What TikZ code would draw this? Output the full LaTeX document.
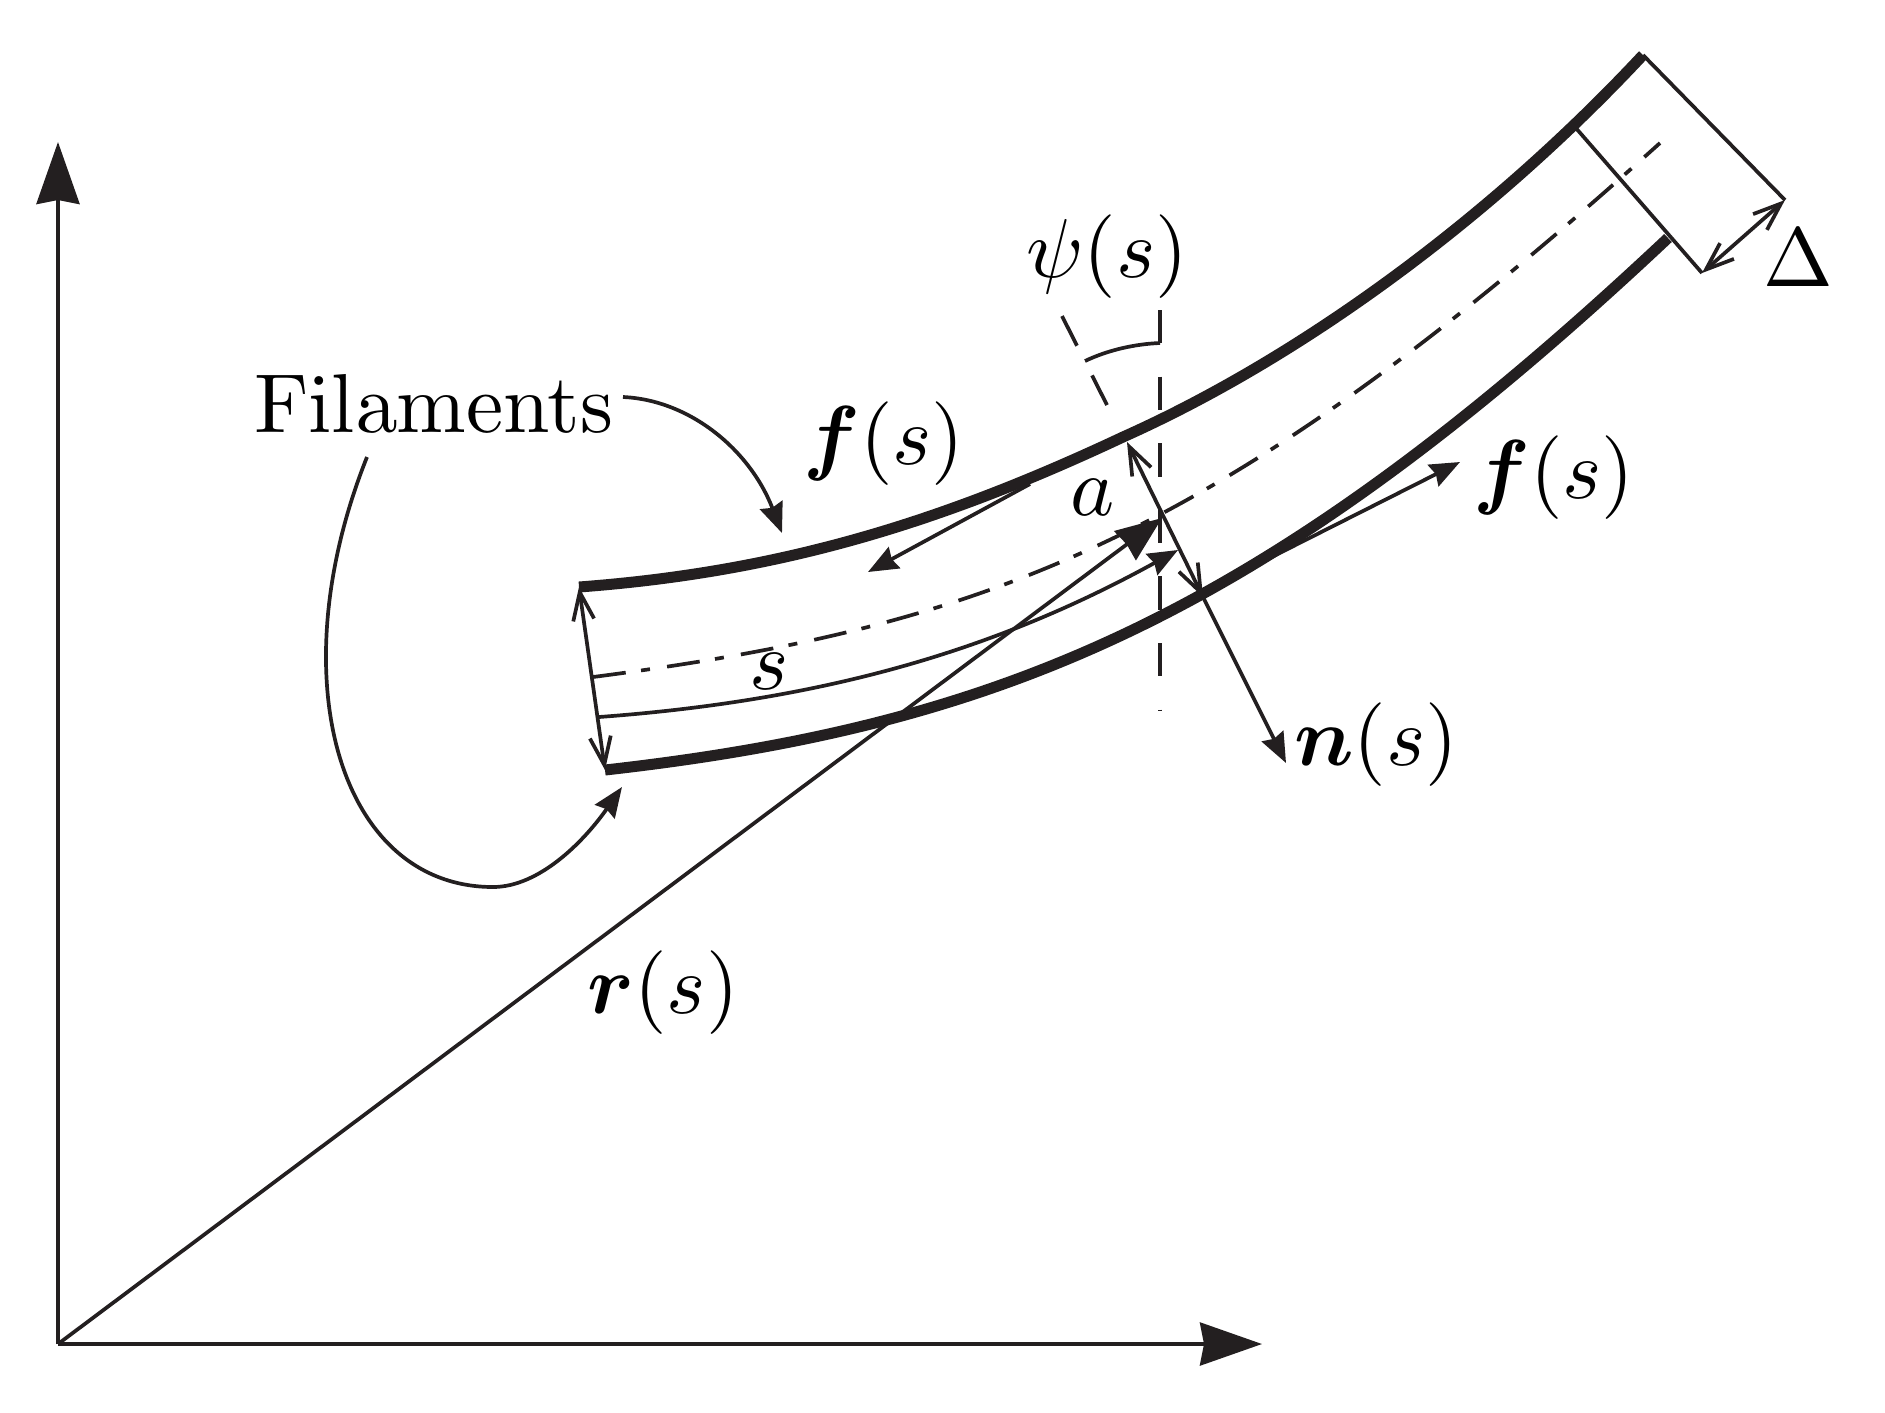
\documentclass[tikz,border=0pt]{standalone}
\usepackage{amsmath,bm}
\usetikzlibrary{arrows.meta}
\definecolor{inkline}{RGB}{35,31,32}
\tikzset{
  every node/.style={scale=2.38, inner sep=0pt},
  thinline/.style={draw=inkline, line width=0.37mm},
  filament/.style={draw=inkline, line width=1.1mm},
  axisarrow/.style={thinline, -{Stealth[length=6.2mm,width=4.3mm,inset=0.4mm]}},
  radiusarrow/.style={thinline, -{Stealth[length=4.6mm,width=3.6mm,inset=0.2mm]}},
  smallarrow/.style={thinline, -{Stealth[length=3mm,width=2.4mm,inset=0.3mm]}},
  openarrow/.style={thinline, {Straight Barb[length=2.8mm,width=2.1mm]}-{Straight Barb[length=2.8mm,width=2.1mm]}},
  centreline/.style={thinline, dash pattern=on 3.3mm off 1.55mm on 0.9mm off 1.73mm},
  refline/.style={thinline, dash pattern=on 3.33mm off 3.33mm},
}
\begin{document}
\begin{tikzpicture}[x=0.1mm, y=-0.1mm]
  \useasboundingbox (0,0) rectangle (1885,1412);
  \coordinate (origin) at (58,1344);
  \coordinate (ytip) at (58,142);
  \coordinate (xtip) at (1262,1344);
  \coordinate (topstart) at (579,587);
  \coordinate (topmid) at (1123,437);
  \coordinate (topend) at (1643,55);
  \coordinate (botstart) at (605,770);
  \coordinate (botend) at (1668,238);
  \coordinate (midstart) at (593,677);
  \coordinate (midend) at (1660,143);
  \coordinate (sstart) at (599,717);
  \coordinate (stip) at (1178,550);
  \coordinate (rtip) at (1162,518);
  \coordinate (atop) at (1127,442);
  \coordinate (abot) at (1203,597);
  \coordinate (ntip) at (1286,763);
  \coordinate (ftan) at (1250,568);
  \coordinate (ftip) at (1460,462);
  \coordinate (gtan) at (1030,484);
  \coordinate (gtip) at (868,572);
  \coordinate (capin) at (1575,127);
  \coordinate (capcorner) at (1702,273);
  \coordinate (capouter) at (1785,200);
  \coordinate (vtop) at (1160,310);
  \coordinate (vbot) at (1160,710);
  \coordinate (vcorner) at (1160,343);
  \coordinate (tilttop) at (1062,316);
  \coordinate (tiltbot) at (1107,405);
  \coordinate (tiltarc) at (1085,361);
  \coordinate (fila) at (623,397);
  \coordinate (filatip) at (782,533);
  \coordinate (filb) at (367,457);
  \coordinate (filbmid) at (493,887);
  \coordinate (filbtip) at (622,787);

  % axes and position vector
  \draw[axisarrow] (origin) -- (ytip);
  \draw[axisarrow] (origin) -- (xtip);

  % rod
  \draw[filament] (topstart) .. controls (780,572) and (940,523) .. (topmid)
    .. controls (1300,358) and (1490,219) .. (topend);
  \draw[filament] (botstart) .. controls (1005,725) and (1268,614) .. (botend);
  \draw[centreline] (midstart) .. controls (993,625) and (1220,539) .. (midend);
  \draw[smallarrow] (sstart) .. controls (830,700) and (1000,648) .. (stip);
  \draw[radiusarrow] (origin) -- (rtip);

  % ends of rod
  \draw[openarrow] (topstart) -- (botstart);
  \draw[thinline] (topend) -- (capouter);
  \draw[thinline] (capin) -- (capcorner);
  \draw[openarrow] (capcorner) -- (capouter);

  % frame vectors
  \draw[openarrow] (atop) -- (abot);
  \draw[smallarrow] (abot) -- (ntip);
  \draw[smallarrow] (ftan) -- (ftip);
  \draw[smallarrow] (gtan) -- (gtip);

  % twist angle
  \draw[refline] (vtop) -- (vbot);
  \draw[refline] (tilttop) -- (tiltbot);
  \draw[thinline] (vcorner) .. controls (1135,344) and (1108,350) .. (tiltarc);

  % pointers from the label
  \draw[smallarrow] (fila) .. controls (690,400) and (750,450) .. (filatip);
  \draw[thinline] (filb) .. controls (278,680) and (340,887) .. (filbmid);
  \draw[smallarrow] (filbmid) .. controls (540,887) and (585,840) .. (filbtip);

  % labels
  \node (filaments) at (434,403) {\font\filafont=cmr10 \filafont Filaments};
  \node (psilabel) at (1107,257) {$\psi(s)$};
  \node (ftoplabel) at (884,444) {$\bm{f}(s)$};
  \node (frightlabel) at (1554,478) {$\bm{f}(s)$};
  \node (nlabel) at (1376,745) {$\bm{n}(s)$};
  \node (rlabel) at (663,993) {$\bm{r}(s)$};
  \node (alabel) at (1093,497) {$a$};
  \node (slabel) at (769,671) {$s$};
  \node (deltalabel) at (1798,258) {$\Delta$};
\end{tikzpicture}
\end{document}
